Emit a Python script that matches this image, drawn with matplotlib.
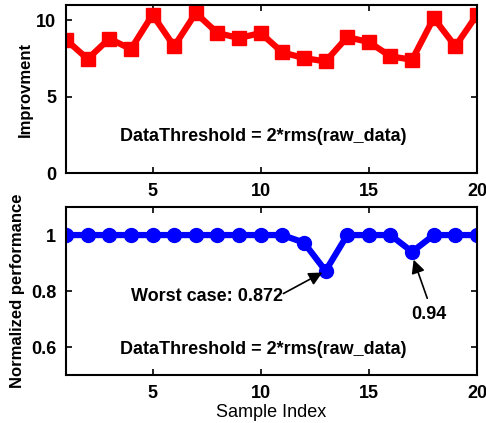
import matplotlib.pyplot as plt

plt.rcParams['font.family'] = ['Liberation Sans', 'DejaVu Sans']

sample_idx = list(range(1, 21))
improvement = [8.73, 7.47, 8.80, 8.12, 10.37, 8.30, 10.48, 9.17, 8.84, 9.17,
               7.90, 7.53, 7.31, 8.90, 8.58, 7.64, 7.42, 10.15, 8.30, 10.37]
norm_perf = [1, 1, 1, 1, 1, 1, 1, 1, 1, 1,
             1, 0.973, 0.872, 1, 1, 1, 0.94, 1, 1, 1]
x_ticks = [5, 10, 15, 20]
label_text = 'DataThreshold = 2*rms(raw_data)'

fig = plt.figure(figsize=(4.86, 4.23), dpi=100)
ax1 = fig.add_axes([0.1358, 0.591, 0.8457, 0.397])
ax2 = fig.add_axes([0.1358, 0.1135, 0.8457, 0.397])

# top panel
ax1.plot(sample_idx, improvement, color='red', lw=4.5, marker='s', ms=9.5)
ax1.set_xlim(1, 20)
ax1.set_ylim(0, 11)
ax1.set_yticks([0, 5, 10])
ax1.set_ylabel('Improvment', fontsize=12, fontweight='bold', labelpad=2)
ax1.text(10.1, 2.4, label_text, ha='center', va='center',
         fontsize=13, fontweight='bold')

# bottom panel
ax2.plot(sample_idx, norm_perf, color='blue', lw=4.5, marker='o', ms=10)
ax2.set_xlim(1, 20)
ax2.set_ylim(0.5, 1.1)
ax2.set_yticks([0.6, 0.8, 1])
ax2.set_yticklabels(['0.6', '0.8', '1'])
ax2.set_ylabel('Normalized performance', fontsize=12, fontweight='bold')
ax2.set_xlabel('Sample Index', fontsize=13, labelpad=2)
ax2.text(10.1, 0.59, label_text, ha='center', va='center',
         fontsize=13, fontweight='bold')

arrow = dict(arrowstyle='-|>', color='black', lw=1.2, mutation_scale=20,
             shrinkA=0, shrinkB=0)
ax2.text(7.53, 0.781, 'Worst case: 0.872', ha='center', va='center',
         fontsize=13, fontweight='bold')
ax2.annotate('', xy=(12.85, 0.866), xytext=(11.05, 0.791), arrowprops=arrow)
ax2.text(17.76, 0.717, '0.94', ha='center', va='center',
         fontsize=13, fontweight='bold')
ax2.annotate('', xy=(17.07, 0.912), xytext=(17.7, 0.774), arrowprops=arrow)

for ax in (ax1, ax2):
    ax.set_xticks(x_ticks)
    ax.tick_params(direction='in', top=True, right=True, labelsize=13,
                   width=1.2, length=4, pad=7)
    for lab in ax.get_xticklabels() + ax.get_yticklabels():
        lab.set_fontweight('bold')
    for sp in ax.spines.values():
        sp.set_linewidth(1.5)

fig.savefig('out.png', dpi=100)
